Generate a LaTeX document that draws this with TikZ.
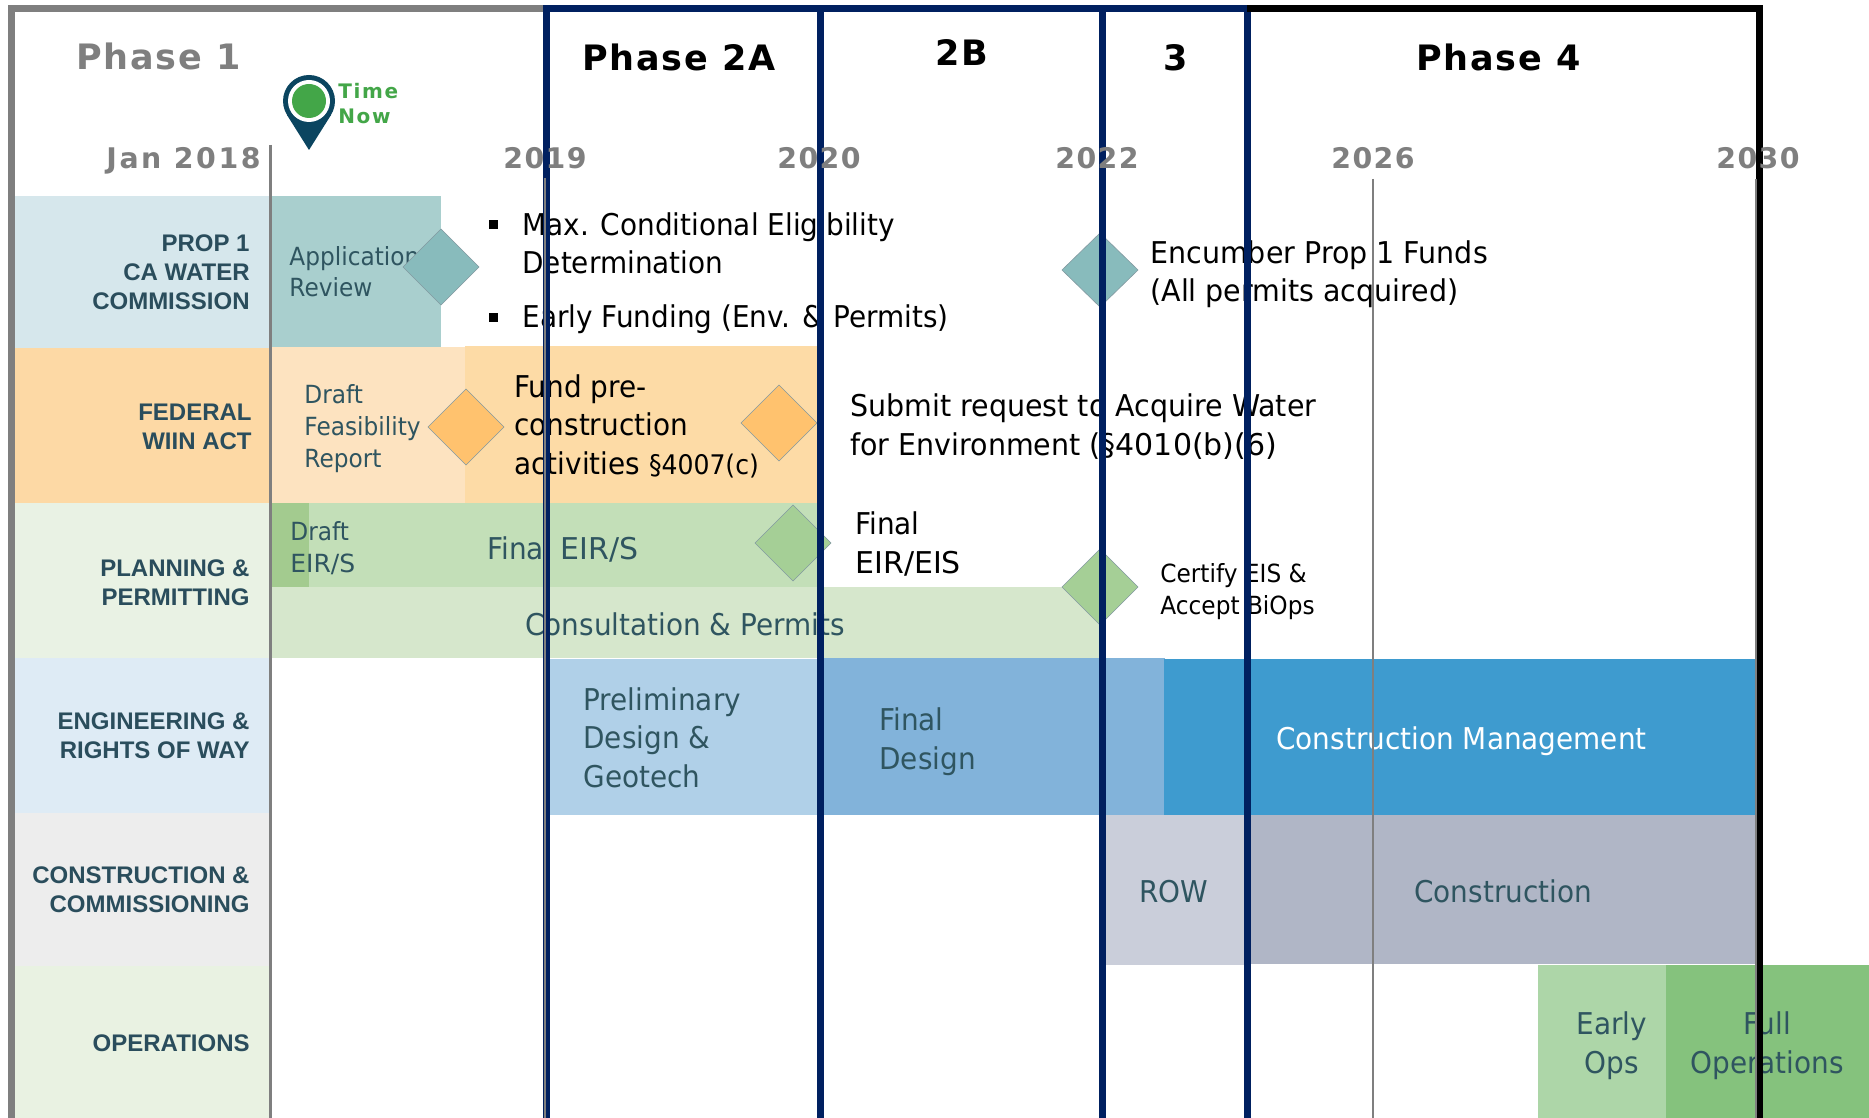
\documentclass[tikz,border=0pt]{standalone}
\usepackage{fontspec}
\setmainfont{Liberation Sans}
\newfontfamily\bodyf[FakeStretch=.93]{DejaVu Sans}
\newfontfamily\bodyg[FakeStretch=.95]{DejaVu Sans}
\newfontfamily\bodyw[FakeStretch=1.0]{DejaVu Sans}
\newfontfamily\headf[LetterSpace=5]{DejaVu Sans}
\newfontfamily\janf[LetterSpace=9]{DejaVu Sans}
\newfontfamily\timef[LetterSpace=8]{DejaVu Sans}
\definecolor{labc}{HTML}{2A4D5C}
\definecolor{tealc}{HTML}{2F5560}
\definecolor{greyc}{HTML}{7F7F7F}
\definecolor{navyc}{HTML}{002060}
\definecolor{pinc}{HTML}{0B4560}
\definecolor{timec}{HTML}{43A648}
\definecolor{rowa}{HTML}{D6E7EC}
\definecolor{rowb}{HTML}{FDD9A5}
\definecolor{rowc}{HTML}{E9F2E4}
\definecolor{rowd}{HTML}{DEEBF5}
\definecolor{rowe}{HTML}{EDEDED}
\definecolor{rowf}{HTML}{E9F2E2}
\definecolor{appc}{HTML}{A9CFCE}
\definecolor{appd}{HTML}{88BBBC}
\definecolor{drafc}{HTML}{FDE3C0}
\definecolor{fundc}{HTML}{FDDBA6}
\definecolor{orad}{HTML}{FFC26E}
\definecolor{eirc}{HTML}{C3DFB8}
\definecolor{drec}{HTML}{A3CB8F}
\definecolor{cons}{HTML}{D6E7CC}
\definecolor{grnd}{HTML}{A5CF96}
\definecolor{prec}{HTML}{B0D0E8}
\definecolor{fdc}{HTML}{82B3DA}
\definecolor{cmc}{HTML}{3E9BCF}
\definecolor{rowc2}{HTML}{CACEDA}
\definecolor{conc}{HTML}{B0B6C6}
\definecolor{earlyc}{HTML}{ADD6A8}
\definecolor{fullc}{HTML}{85C27D}
\tikzset{
  x=.5pt,y=-.5pt,
  lab/.style={anchor=base east,inner sep=0pt,align=right,text=labc,font=\fontsize{12}{14.5}\selectfont\bfseries},
  big/.style={anchor=base west,inner sep=0pt,align=left,text=black,font=\bodyf\fontsize{15}{19.2}\selectfont},
  mid/.style={anchor=base west,inner sep=0pt,align=left,text=tealc,font=\bodyf\fontsize{12.5}{15.8}\selectfont},
  bar/.style={anchor=base west,inner sep=0pt,align=left,text=tealc,font=\bodyf\fontsize{15}{19.2}\selectfont},
  phase/.style={anchor=base west,inner sep=0pt,font=\headf\fontsize{17.5}{20}\selectfont\bfseries},
  yr/.style={anchor=base,inner sep=0pt,text=greyc,font=\headf\fontsize{14.2}{16}\selectfont\bfseries},
  dia/.style={draw=tealc!60,line width=.3pt},
  navy/.style={draw=navyc,line width=3.5pt},
  gridl/.style={draw=greyc,line width=.75pt},
}
\begin{document}
\begin{tikzpicture}
\useasboundingbox (0,0) rectangle (1869,1118);
\fill[white] (0,0) rectangle (1869,1118);
% row headers
\fill[rowa] (14,196) rectangle (270,348);
\fill[rowb] (14,348) rectangle (270,503);
\fill[rowc] (14,503) rectangle (270,658);
\fill[rowd] (14,658) rectangle (270,813);
\fill[rowe] (14,813) rectangle (270,966);
\fill[rowf] (14,966) rectangle (270,1118);
% bars
\fill[appc] (270,196) rectangle (441,348);
\fill[drafc] (270,347) rectangle (465,503);
\fill[fundc] (465,346) rectangle (817,503);
\fill[eirc] (270,503) rectangle (817,587);
\fill[drec] (270,503) rectangle (309,587);
\fill[cons] (270,587) rectangle (1099,658);
\fill[prec] (550,659) rectangle (820,815);
\fill[fdc] (820,658) rectangle (1165,815);
\fill[cmc] (1164,659) rectangle (1756,815);
\fill[rowc2] (1106,815) rectangle (1247,965);
\fill[conc] (1247,815) rectangle (1756,964);
\fill[earlyc] (1538,965) rectangle (1666,1118);
\fill[fullc] (1666,965) rectangle (1869,1118);
% labels
\node[lab] (l1) at (250,310) {PROP 1\\CA WATER\\COMMISSION};
\node[lab] (l2) at (252,449) {FEDERAL\\WIIN ACT};
\node[lab] (l3) at (250,605) {PLANNING \&\\PERMITTING};
\node[lab] (l4) at (250,758) {ENGINEERING \&\\RIGHTS OF WAY};
\node[lab] (l5) at (250,912) {CONSTRUCTION \&\\COMMISSIONING};
\node[lab] (l6) at (250,1051) {OPERATIONS};
% bar texts
\node[mid] (t1) at (289,297) {Application\\Review};
\node[mid] (t2) at (304,467) {Draft\\Feasibility\\Report};
\node[big] (t3) at (514,474) {Fund pre-\\construction\\activities {\fontsize{13.5}{15}\selectfont §4007(c)}};
\node[mid] (t4) at (290,572) {Draft\\{\bodyw EIR/S}};
\node[bar] (t5) at (487,559) {Final {\bodyw EIR/S}};
\node[bar] (t6) at (525,635) {Consultation \& Permits};
\node[bar] (t7) at (583,787) {Preliminary\\Design \&\\Geotech};
\node[bar] (t8) at (879,769) {Final\\Design};
\node[big,text=white] (t9) at (1276,749) {Construction Management};
\node[bar] (t10) at (1139,902) {ROW};
\node[bar] (t11) at (1414,902) {Construction};
\node[bar,anchor=base,align=center] (t12) at (1612,1073) {Early\\Ops};
\node[bar,anchor=base,align=center] (t13) at (1767,1073) {Full\\Operations};
% milestone texts
\node[big] (m1) at (522,274) {Max. Conditional Eligibility\\Determination};
\node[big] (m2) at (522,328) {Early Funding (Env. \& Permits)};
\fill[black] (489,220) rectangle (498,229);
\fill[black] (489,313) rectangle (498,322);
\node[big,font=\bodyg\fontsize{15}{19.2}\selectfont] (m3) at (1150,302) {Encumber Prop 1 Funds\\(All permits acquired)};
\node[big,font=\bodyg\fontsize{15}{19.2}\selectfont] (m4) at (850,455) {Submit request to Acquire Water\\for Environment ({\bodyw §4010(b)(6)}};
\node[big] (m5) at (855,573) {Final\\{\bodyw EIR/EIS}};
\node[mid,text=black] (m6) at (1160,614) {Certify EIS \&\\Accept BiOps};
% diamonds
\path[dia,fill=appd] (441,229) -- (479,267) -- (441,305) -- (403,267) -- cycle;
\path[dia,fill=appd] (1100,233) -- (1138,270) -- (1100,307) -- (1062,270) -- cycle;
\path[dia,fill=orad] (466,389) -- (504,427) -- (466,465) -- (428,427) -- cycle;
\path[dia,fill=orad] (779,385) -- (817,423) -- (779,461) -- (741,423) -- cycle;
\path[dia,fill=grnd] (793,505) -- (831,543) -- (793,581) -- (755,543) -- cycle;
\path[dia,fill=grnd] (1100,549) -- (1138,587) -- (1100,625) -- (1062,587) -- cycle;
% phase frame
\draw[draw=greyc,line width=3.5pt] (11,1118) -- (11,9) -- (546,9);
\draw[navy] (546,1118) -- (546,9) -- (1247,9);
\draw[navy] (820,9) -- (820,1118);
\draw[navy] (1102,9) -- (1102,1118);
\draw[navy] (1247,9) -- (1247,1118);
\draw[draw=black,line width=3.5pt] (1247,9) -- (1759,9) -- (1759,1118);
% grid lines
\draw[draw=greyc,line width=1.5pt] (270,145) -- (270,1118);
\draw[gridl] (545,178) -- (545,1118);
\draw[gridl] (1373,179) -- (1373,1118);
\draw[gridl] (1756,179) -- (1756,1118);
% headings
\node[phase,text=greyc] (p1) at (76,70) {Phase 1};
\node[phase] (p2) at (582,71) {Phase 2A};
\node[phase] (p3) at (935,66) {2B};
\node[phase] (p4) at (1163,71) {3};
\node[phase] (p5) at (1416,71) {Phase 4};
\node[yr,anchor=base east,font=\janf\fontsize{14.2}{16}\selectfont\bfseries] (y0) at (261,169) {Jan 2018};
\node[yr] (y1) at (545,169) {2019};
\node[yr] (y2) at (819,169) {2020};
\node[yr] (y3) at (1097,169) {2022};
\node[yr] (y4) at (1373,169) {2026};
\node[yr] (y5) at (1758,169) {2030};
% time now pin
\fill[pinc] (309,101) circle[radius=26];
\fill[pinc] (287,115) -- (331,115) -- (309,150) -- cycle;
\fill[white] (309,101) circle[radius=21];
\fill[timec] (309,101) circle[radius=17];
\node[anchor=base west,inner sep=0pt,align=left,text=timec,font=\timef\fontsize{10}{12.5}\selectfont\bfseries] (tn) at (338,124) {Time\\Now};
\end{tikzpicture}
\end{document}
